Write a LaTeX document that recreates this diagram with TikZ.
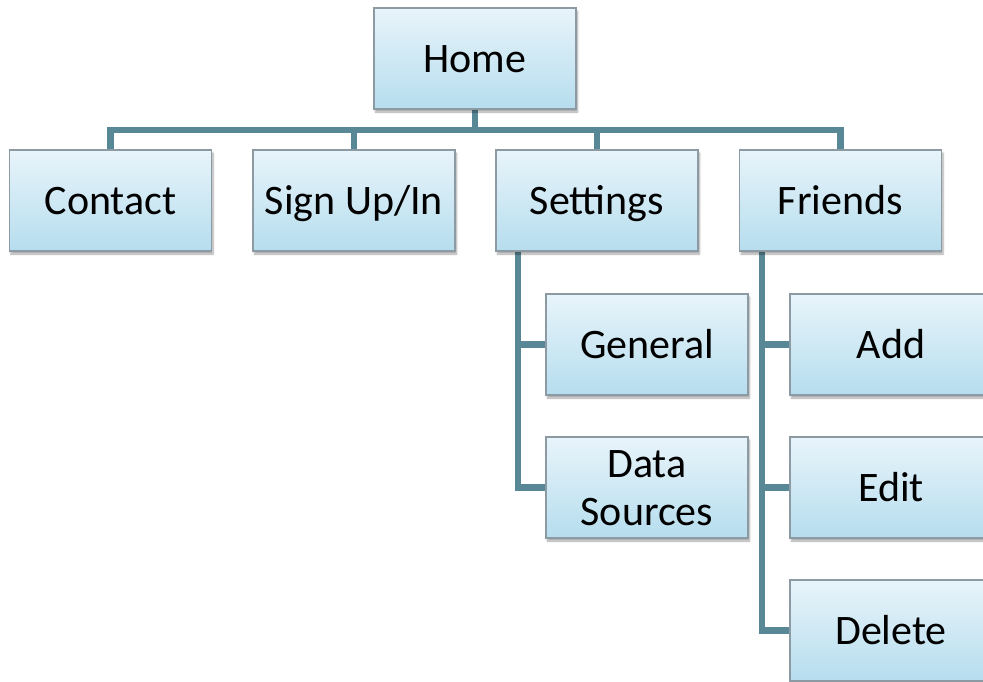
\documentclass[tikz,border=0pt]{standalone}
\usepackage{fontspec}
\setmainfont{Carlito}
\usetikzlibrary{shadows.blur,backgrounds}
\definecolor{linkcol}{RGB}{88,135,150}
\definecolor{boxtop}{RGB}{232,244,250}
\definecolor{boxbot}{RGB}{182,221,238}
\definecolor{boxedge}{RGB}{140,155,163}
\tikzset{
  page/.style={x=1pt,y=-1pt},
  menubox/.style={draw=boxedge, line width=1.2pt, top color=boxtop, bottom color=boxbot,
    minimum width=202pt, minimum height=101pt, inner sep=0pt, align=center,
    font=\fontsize{42}{48}\selectfont, text height=37pt, text depth=10pt,
    blur shadow={shadow xshift=1.5pt, shadow yshift=-3pt, shadow blur steps=6, shadow opacity=35}},
  twolines/.style={text height=85pt},
  link/.style={draw=linkcol, line width=6.5pt, line join=miter}
}
\begin{document}
\begin{tikzpicture}[page]
\useasboundingbox (0,0) rectangle (983,681);
\clip (0,0) rectangle (983,681);
% top level
\node[menubox] (home) at (475,58.5) {Home};
% second level
\node[menubox] (contact)  at (110.5,200.5) {Contact};
\node[menubox] (signup)   at (354,200.5)   {Sign Up/In};
\node[menubox] (settings) at (597,200.5)   {Settings};
\node[menubox] (friends)  at (840.5,200.5) {Friends};
% settings pages
\node[menubox] (general) at (647,344.5) {General};
\node[menubox,twolines] (sources) at (647,487.5) {Data\\Sources};
% friends pages
\node[menubox] (add)    at (891,344.5) {Add};
\node[menubox] (edit)   at (891,487.5) {Edit};
\node[menubox] (delete) at (891,630.5) {Delete};
% connectors
\coordinate (bus) at (0,130);
\coordinate (setstem) at (518,0);
\coordinate (frstem) at (762,0);
\begin{scope}[on background layer]
  \foreach \c in {contact,signup,settings,friends}
    \draw[link] (home.south) -- (home.south |- bus) -| (\c.north);
  \draw[link] (setstem |- settings.south) |- (sources.west);
  \draw[link] (setstem |- general.west) -- (general.west);
  \draw[link] (frstem |- friends.south) |- (delete.west);
  \draw[link] (frstem |- add.west) -- (add.west);
  \draw[link] (frstem |- edit.west) -- (edit.west);
\end{scope}
\end{tikzpicture}
\end{document}
